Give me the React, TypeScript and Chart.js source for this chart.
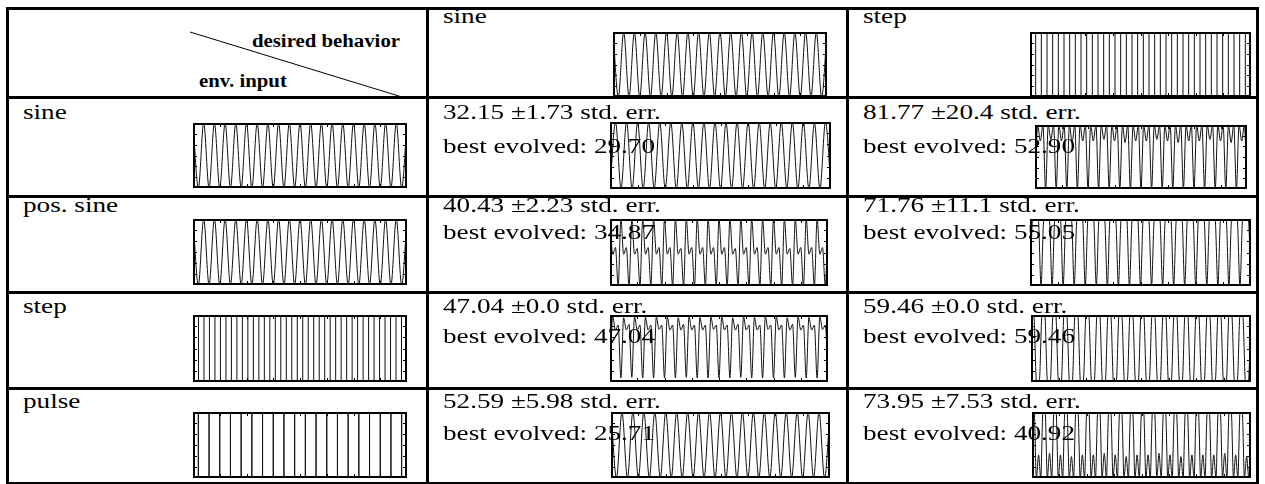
import React, { useEffect, useRef, useMemo } from "react";
import { Chart, registerables } from "chart.js";
Chart.register(...registerables);

// ---------------- data ----------------
const desiredBehaviors = ["sine", "step"];
const envInputs = ["sine", "pos. sine", "step", "pulse"];

const meanErrSine = ["32.15", "40.43", "47.04", "52.59"];
const stdErrSine = ["1.73", "2.23", "0.0", "5.98"];
const bestSine = ["29.70", "34.87", "47.04", "25.71"];

const meanErrStep = ["81.77", "71.76", "59.46", "73.95"];
const stdErrStep = ["20.4", "11.1", "0.0", "7.53"];
const bestStep = ["52.90", "55.05", "59.46", "40.92"];

// input / target signals (extreme values per half-cycle)
const sineSignal = [
  1, -1, 1, -1, 1, -1, 1, -1, 1, -1, 1, -1, 1, -1, 1, -1, 1, -1, 1, -1,
  1, -1, 1, -1, 1, -1, 1, -1, 1, -1, 1, -1, 1, -1, 1, -1, 1, -1, 1, -1, 1,
];
const posSineSignal = [
  1, 0, 1, 0, 1, 0, 1, 0, 1, 0, 1, 0, 1, 0, 1, 0, 1, 0, 1, 0,
  1, 0, 1, 0, 1, 0, 1, 0, 1, 0, 1, 0, 1, 0, 1, 0, 1, 0, 1, 0, 1,
];
const stepSignal = [
  1, -1, 1, -1, 1, -1, 1, -1, 1, -1, 1, -1, 1, -1, 1, -1, 1, -1, 1, -1,
  1, -1, 1, -1, 1, -1, 1, -1, 1, -1, 1, -1, 1, -1, 1, -1, 1, -1, 1, -1,
];
const pulseTimes = [
  0.5, 1.5, 2.5, 3.5, 4.5, 5.5, 6.5, 7.5, 8.5, 9.5,
  10.5, 11.5, 12.5, 13.5, 14.5, 15.5, 16.5, 17.5, 18.5, 19.5,
];

// evolved outputs, desired = sine
const outSineFromSine = [
  -1, 1, -0.98, 1, -1, 0.98, -1, 1, -0.98, 1, -1, 1, -1, 0.98, -1, 1, -0.98, 1, -1, 1,
  -1, 0.98, -1, 1, -0.98, 1, -1, 1, -1, 0.98, -1, 1, -0.98, 1, -1, 1, -1, 0.98, -1, 1, -1,
];
const outSineFromPosSine = [
  1, -0.05, 0.15, -1, 1, -0.05, 0.15, -1, 1, -0.05, 0.12, -1, 1, -0.05, 0.15, -1, 1, -0.05, 0.15, -1,
  1, -0.05, 0.15, -1, 1, -0.05, 0.12, -1, 1, -0.05, 0.15, -1, 1, -0.05, 0.15, -1, 1, -0.05, 0.15, -1,
  1, -0.05, 0.15, -1, 1, -0.05, 0.12, -1, 1, -0.05, 0.15, -1, 1, -0.05, 0.15, -1, 1, -0.05, 0.15, -1,
  1, -0.05, 0.15, -1, 1, -0.05, 0.12, -1, 1, -0.05, 0.15, -1, 1, -0.05, 0.15, -1, 1, -0.05, 0.15, -1, 1,
];
const outSineFromStep = [
  -0.88, 0.95, 0.55, 0.7, -0.88, 0.92, 0.55, 0.72, -0.86, 0.95, 0.55, 0.7, -0.88, 0.93, 0.55, 0.7, -0.88, 0.95, 0.57, 0.7,
  -0.88, 0.95, 0.55, 0.7, -0.88, 0.92, 0.55, 0.72, -0.86, 0.95, 0.55, 0.7, -0.88, 0.93, 0.55, 0.7, -0.88, 0.95, 0.57, 0.7,
  -0.88, 0.95, 0.55, 0.7, -0.88, 0.92, 0.55, 0.72, -0.86, 0.95, 0.55, 0.7, -0.88, 0.93, 0.55, 0.7, -0.88, 0.95, 0.57, 0.7,
  -0.88, 0.95, 0.55, 0.7, -0.88, 0.92, 0.55, 0.72, -0.86, 0.95, 0.55, 0.7, -0.88, 0.93, 0.55, 0.7, -0.88, 0.95, 0.57, 0.7, -0.88,
];
const outSineFromPulse = [
  1, -1, 1, -1, 1, -1, 1, -1, 1, -1, 1, -1, 1, -1, 1, -1, 1, -1, 1, -1,
  1, -1, 1, -1, 1, -1, 1, -1, 1, -1, 1, -1, 1, -1, 1, -1, 1, -1, 1, -1, 1,
];

// evolved outputs, desired = step
const outStepFromSine = [
  -1, 1, 0.5, 1, -1, 1, 0.55, 1, -1, 1, 0.5, 1, -1, 1, 0.45, 1, -1, 1, 0.5, 1,
  -1, 1, 0.5, 1, -1, 1, 0.55, 1, -1, 1, 0.5, 1, -1, 1, 0.45, 1, -1, 1, 0.5, 1,
  -1, 1, 0.5, 1, -1, 1, 0.55, 1, -1, 1, 0.5, 1, -1, 1, 0.45, 1, -1, 1, 0.5, 1,
  -1, 1, 0.5, 1, -1, 1, 0.55, 1, -1, 1, 0.5, 1, -1, 1, 0.45, 1, -1, 1, 0.5, 1, -1,
];
const outStepFromPosSine = [
  -1, 1, 1, 1, -1, 1, 1, 1, -1, 1, 1, 1, -1, 1, 1, 1, -1, 1, 1, 1,
  -1, 1, 1, 1, -1, 1, 1, 1, -1, 1, 1, 1, -1, 1, 1, 1, -1, 1, 1, 1,
  -1, 1, 1, 1, -1, 1, 1, 1, -1, 1, 1, 1, -1, 1, 1, 1, -1, 1, 1, 1,
  -1, 1, 1, 1, -1, 1, 1, 1, -1, 1, 1, 1, -1, 1, 1, 1, -1, 1, 1, 1, -1,
];
const outStepFromStep = [
  1, 1, -1, -1, 1, 1, -1, -1, 1, 1, -1, -1, 1, 1, -1, -1, 1, 1, -1, -1,
  1, 1, -1, -1, 1, 1, -1, -1, 1, 1, -1, -1, 1, 1, -1, -1, 1, 1, -1, -1,
  1, 1, -1, -1, 1, 1, -1, -1, 1, 1, -1, -1, 1, 1, -1, -1, 1, 1, -1, -1,
  1, 1, -1, -1, 1, 1, -1, -1, 1, 1, -1, -1, 1, 1, -1, -1, 1, 1, -1, -1, 1,
];
const outStepFromPulse = [
  1, 1, -1, -0.3, -1, 1, 1, -1, -0.25, -1, 1, 1, -1, -0.3, -1, 1, 1, -1, -0.35, -1,
  1, 1, -1, -0.3, -1, 1, 1, -1, -0.3, -1, 1, 1, -1, -0.25, -1, 1, 1, -1, -0.3, -1,
  1, 1, -1, -0.35, -1, 1, 1, -1, -0.3, -1, 1, 1, -1, -0.3, -1, 1, 1, -1, -0.25, -1,
  1, 1, -1, -0.3, -1, 1, 1, -1, -0.35, -1, 1, 1, -1, -0.3, -1, 1, 1, -1, -0.3, -1,
  1, 1, -1, -0.3, -1, 1, 1, -1, -0.25, -1, 1, 1, -1, -0.3, -1, 1, 1, -1, -0.35, -1, 1,
];

// ---------------- layout ----------------
type Box = { x: number; y: number; w: number; h: number };
type Wave = { kind: "smooth" | "stepped" | "pulse"; values: number[]; yMin: number; yMax: number; span?: number };

const FONT = '"Liberation Serif", "Times New Roman", serif';
const SIZE = 20;
const BOLD_SIZE = 18;

const colX = [7, 427, 847, 1257];
const rowY = [8, 97, 196, 292, 388, 483];
const line1Base = [119, 212, 313, 408];
const line2Base = [153, 239, 343, 440];

const inputWaves: Wave[] = [
  { kind: "smooth", values: sineSignal, yMin: -1, yMax: 1 },
  { kind: "smooth", values: posSineSignal, yMin: 0, yMax: 1 },
  { kind: "stepped", values: stepSignal, yMin: -1, yMax: 1 },
  { kind: "pulse", values: pulseTimes, yMin: -1, yMax: 1, span: 20 },
];
const sineOut: Wave[] = [
  { kind: "smooth", values: outSineFromSine, yMin: -1, yMax: 1 },
  { kind: "smooth", values: outSineFromPosSine, yMin: -1, yMax: 1 },
  { kind: "smooth", values: outSineFromStep, yMin: -1, yMax: 1 },
  { kind: "smooth", values: outSineFromPulse, yMin: -1, yMax: 1 },
];
const stepOut: Wave[] = [
  { kind: "smooth", values: outStepFromSine, yMin: -1, yMax: 1 },
  { kind: "smooth", values: outStepFromPosSine, yMin: -1, yMax: 1 },
  { kind: "smooth", values: outStepFromStep, yMin: -1, yMax: 1 },
  { kind: "smooth", values: outStepFromPulse, yMin: -1, yMax: 1 },
];

const headerBoxes: Box[] = [
  { x: 613, y: 32, w: 214, h: 65 },
  { x: 1030, y: 32, w: 221, h: 65 },
];
const inputBoxes: Box[] = [
  { x: 193, y: 123, w: 214, h: 65 },
  { x: 193, y: 219, w: 214, h: 66 },
  { x: 193, y: 315, w: 214, h: 67 },
  { x: 193, y: 412, w: 214, h: 66 },
];
const sineBoxes: Box[] = [
  { x: 610, y: 122, w: 221, h: 67 },
  { x: 610, y: 219, w: 218, h: 67 },
  { x: 610, y: 315, w: 218, h: 67 },
  { x: 611, y: 412, w: 219, h: 66 },
];
const stepBoxes: Box[] = [
  { x: 1035, y: 125, w: 212, h: 64 },
  { x: 1030, y: 219, w: 221, h: 67 },
  { x: 1031, y: 315, w: 220, h: 67 },
  { x: 1032, y: 412, w: 219, h: 66 },
];

// ---------------- chart ----------------
const framePlugin = {
  id: "frame",
  afterDraw(chart: any) {
    const { ctx, chartArea: a } = chart;
    const xs = chart.scales.x;
    const ys = chart.scales.y;
    ctx.save();
    ctx.strokeStyle = "#000";
    ctx.lineWidth = 1;
    for (let k = 1; k < 8; k++) {
      const px = Math.round(xs.getPixelForDecimal(k / 8)) + 0.5;
      ctx.beginPath();
      ctx.moveTo(px, a.bottom);
      ctx.lineTo(px, a.bottom - 4);
      ctx.moveTo(px, a.top);
      ctx.lineTo(px, a.top + 4);
      ctx.stroke();
    }
    for (let k = 1; k < 6; k++) {
      const py = Math.round(ys.getPixelForDecimal(k / 6)) + 0.5;
      ctx.beginPath();
      ctx.moveTo(a.left, py);
      ctx.lineTo(a.left + 4, py);
      ctx.moveTo(a.right, py);
      ctx.lineTo(a.right - 4, py);
      ctx.stroke();
    }
    ctx.lineWidth = 2;
    ctx.strokeRect(a.left + 1, a.top + 1, a.right - a.left - 2, a.bottom - a.top - 2);
    ctx.restore();
  },
};

function WaveChart({ box, wave }: { box: Box; wave: Wave }) {
  const ref = useRef<HTMLCanvasElement>(null);
  useEffect(() => {
    const canvas = ref.current;
    if (!canvas) return;
    let data: { x: number; y: number }[];
    let xMax: number;
    if (wave.kind === "pulse") {
      data = wave.values.flatMap((t) => [
        { x: t, y: wave.yMin },
        { x: t, y: wave.yMax },
        { x: t, y: wave.yMin },
      ]);
      xMax = wave.span || 20;
    } else {
      data = wave.values.map((v, i) => ({ x: i, y: v }));
      xMax = wave.values.length - 1;
    }
    const chart = new Chart(canvas, {
      type: "line",
      data: {
        datasets: [
          {
            data,
            borderColor: "#111",
            borderWidth: 1,
            pointRadius: 0,
            fill: false,
            stepped: wave.kind === "stepped" ? "before" : false,
            cubicInterpolationMode: wave.kind === "smooth" ? "monotone" : "default",
            tension: 0,
          } as any,
        ],
      },
      options: {
        animation: false,
        responsive: false,
        maintainAspectRatio: false,
        events: [],
        layout: { padding: 0 },
        plugins: { legend: { display: false }, tooltip: { enabled: false } },
        scales: {
          x: { type: "linear", min: 0, max: xMax, display: false },
          y: { type: "linear", min: wave.yMin, max: wave.yMax, display: false },
        },
      },
      plugins: [framePlugin],
    });
    return () => chart.destroy();
  }, [box, wave]);
  return (
    <canvas
      ref={ref}
      width={box.w}
      height={box.h}
      style={{ position: "absolute", left: box.x, top: box.y, width: box.w, height: box.h }}
    />
  );
}

// ---------------- text ----------------
function measure(text: string, font: string) {
  const c = document.createElement("canvas").getContext("2d");
  if (!c) return 1;
  c.font = font;
  return c.measureText(text).width;
}

function Txt({ x, base, text, size, scale, bold }: { x: number; base: number; text: string; size: number; scale: number; bold?: boolean }) {
  return (
    <div
      style={{
        position: "absolute",
        left: x,
        top: base - 0.8375 * size,
        fontFamily: FONT,
        fontWeight: bold ? 700 : 400,
        fontSize: size,
        lineHeight: `${size}px`,
        whiteSpace: "pre",
        transform: `scaleX(${scale})`,
        transformOrigin: "0 0",
        color: "#000",
      }}
    >
      {text}
    </div>
  );
}

function HLine({ y, x1, x2 }: { y: number; x1: number; x2: number }) {
  return <div style={{ position: "absolute", left: x1 - 1.5, top: y - 1.5, width: x2 - x1 + 3, height: 3, background: "#000" }} />;
}
function VLine({ x, y1, y2 }: { x: number; y1: number; y2: number }) {
  return <div style={{ position: "absolute", left: x - 1.5, top: y1 - 1.5, width: 3, height: y2 - y1 + 3, background: "#000" }} />;
}

export default function App() {
  const scale = useMemo(() => 212 / measure("best evolved: 34.87", `${SIZE}px ${FONT}`), []);
  const boldScale = useMemo(() => 148 / measure("desired behavior", `bold ${BOLD_SIZE}px ${FONT}`), []);

  return (
    <div style={{ position: "absolute", left: 0, top: 0, width: 1265, height: 484, background: "#fff", overflow: "hidden" }}>
      {/* header diagonal */}
      <svg style={{ position: "absolute", left: 0, top: 0 }} width={1265} height={484}>
        <line x1={190} y1={32} x2={402} y2={97} stroke="#000" strokeWidth={1} />
      </svg>
      <Txt x={252} base={47} text="desired behavior" size={BOLD_SIZE} scale={boldScale} bold />
      <Txt x={199} base={87} text="env. input" size={BOLD_SIZE} scale={boldScale} bold />

      {/* header desired behaviors */}
      {desiredBehaviors.map((d, j) => (
        <React.Fragment key={d}>
          <Txt x={colX[j + 1] + 16} base={23} text={d} size={SIZE} scale={scale} />
          <WaveChart box={headerBoxes[j]} wave={j === 0 ? inputWaves[0] : inputWaves[2]} />
        </React.Fragment>
      ))}

      {/* rows */}
      {envInputs.map((e, i) => (
        <React.Fragment key={e}>
          <WaveChart box={inputBoxes[i]} wave={inputWaves[i]} />
          <Txt x={colX[0] + 16} base={line1Base[i]} text={e} size={SIZE} scale={scale} />

          <WaveChart box={sineBoxes[i]} wave={sineOut[i]} />
          <Txt x={colX[1] + 16} base={line1Base[i]} text={`${meanErrSine[i]} \u00b1${stdErrSine[i]} std. err.`} size={SIZE} scale={scale} />
          <Txt x={colX[1] + 16} base={line2Base[i]} text={`best evolved: ${bestSine[i]}`} size={SIZE} scale={scale} />

          <WaveChart box={stepBoxes[i]} wave={stepOut[i]} />
          <Txt x={colX[2] + 16} base={line1Base[i]} text={`${meanErrStep[i]} \u00b1${stdErrStep[i]} std. err.`} size={SIZE} scale={scale} />
          <Txt x={colX[2] + 16} base={line2Base[i]} text={`best evolved: ${bestStep[i]}`} size={SIZE} scale={scale} />
        </React.Fragment>
      ))}

      {/* table rules */}
      {rowY.map((y) => (
        <HLine key={`h${y}`} y={y} x1={colX[0]} x2={colX[3]} />
      ))}
      {colX.map((x) => (
        <VLine key={`v${x}`} x={x} y1={rowY[0]} y2={rowY[5]} />
      ))}
    </div>
  );
}
